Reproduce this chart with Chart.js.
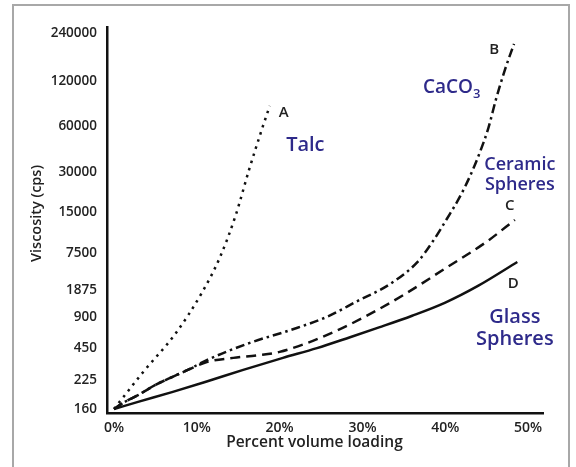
<!DOCTYPE html>
<html>
<head>
<meta charset="utf-8">
<script src="https://cdn.jsdelivr.net/npm/chart.js@4/dist/chart.umd.min.js"></script>
<style>
  body { margin: 0; background: #fff; }
  .wrap { position: relative; width: 576px; height: 467px; }
  .frame { position: absolute; left: 12px; top: 4px; width: 558px; height: 470px;
           border: 2px solid #a8a8a8; border-bottom: none; box-sizing: border-box; }
  canvas { position: absolute; left: 0; top: 0; }
</style>
</head>
<body>
<div class="wrap">
  <div class="frame"></div>
  <canvas id="chart" width="576" height="467"></canvas>
</div>
<script>
// x = percent volume loading, y = position on the (uneven) viscosity scale, 0 = 160 cps, 100 = 240000 cps
const xTicks = [0, 10, 20, 30, 40, 50];
const yTickLevels = [0, 7.7, 16.2, 24.5, 31.6, 41.5, 52.4, 63.0, 75.3, 87.2, 100];
const yTickLabels = ["160", "225", "450", "900", "1875", "7500", "15000", "30000", "60000", "120000", "240000"];

// A - talc
const talcX = [0, 3.5, 7.4, 10.6, 12.8, 14.7, 16.3, 17.9, 18.8];
const talcY = [0, 9.8, 20.0, 30.9, 40.4, 51.6, 63.6, 74.7, 80.6];
// B - CaCO3
const caco3X = [0, 1.3, 2.9, 5.0, 7.0, 8.9, 11.2, 16.4, 21.3, 25.7, 29.3, 33.3, 36.6, 38.5, 40.2, 41.8, 43.1, 44.2, 45.2, 46.1, 47.2, 48.3];
const caco3Y = [0, 1.9, 3.7, 6.4, 8.5, 10.4, 13.0, 17.6, 21.0, 24.5, 28.6, 33.2, 39.0, 44.6, 50.6, 56.6, 62.5, 68.4, 74.7, 82.2, 90.2, 97.1];
// C - ceramic spheres
const ceramicX = [0, 1.3, 2.9, 5.0, 7.0, 8.9, 11.2, 14.4, 17.5, 20, 25, 30, 35, 40, 45, 48.4];
const ceramicY = [0, 1.9, 3.7, 6.4, 8.5, 10.4, 12.5, 13.6, 14.3, 15.2, 19.0, 24.2, 30.4, 37.4, 44.5, 50.3];
// D - glass spheres
const glassX = [0, 2.9, 7.0, 11.0, 15.6, 20.4, 24.5, 28.5, 32, 36, 40, 44, 48.7];
const glassY = [0, 1.9, 4.5, 7.2, 10.4, 13.6, 16.2, 19.1, 21.7, 24.8, 28.3, 32.8, 39.1];

const pts = (xs, ys) => xs.map((x, i) => ({ x: x, y: ys[i] }));

const notes = [
  { text: "A", x: 20.5, y: 78.7, color: "#222", size: 15 },
  { text: "Talc", x: 23.1, y: 70.2, color: "#2e2a8a", size: 20 },
  { text: "B", x: 45.9, y: 95.5, color: "#222", size: 15 },
  { text: "Ceramic", x: 49.0, y: 64.9, color: "#2e2a8a", size: 18 },
  { text: "Spheres", x: 49.0, y: 59.6, color: "#2e2a8a", size: 18 },
  { text: "C", x: 47.8, y: 54.0, color: "#222", size: 15 },
  { text: "D", x: 48.2, y: 33.2, color: "#222", size: 15 },
  { text: "Glass", x: 48.4, y: 24.5, color: "#2e2a8a", size: 20 },
  { text: "Spheres", x: 48.4, y: 18.6, color: "#2e2a8a", size: 20 }
];

const notePlugin = {
  id: "notes",
  afterDraw(chart) {
    const ctx = chart.ctx;
    const xs = chart.scales.x, ys = chart.scales.y;
    ctx.save();
    ctx.textAlign = "center";
    ctx.textBaseline = "middle";
    notes.forEach(n => {
      ctx.font = "600 " + n.size + "px 'Open Sans'";
      ctx.fillStyle = n.color;
      ctx.fillText(n.text, xs.getPixelForValue(n.x), ys.getPixelForValue(n.y));
    });
    // CaCO3 with subscript
    const cx = xs.getPixelForValue(37.3), cy = ys.getPixelForValue(85.4);
    ctx.textAlign = "left";
    ctx.fillStyle = "#2e2a8a";
    ctx.font = "600 19px 'Open Sans'";
    ctx.fillText("CaCO", cx, cy);
    const w = ctx.measureText("CaCO").width;
    ctx.font = "600 13px 'Open Sans'";
    ctx.fillText("3", cx + w, cy + 6);

    // axis titles
    ctx.fillStyle = "#222";
    ctx.textAlign = "center";
    ctx.font = "600 15.5px 'Open Sans'";
    ctx.fillText("Percent volume loading", xs.getPixelForValue(24.2), 443);
    ctx.translate(37, ys.getPixelForValue(52));
    ctx.rotate(-Math.PI / 2);
    ctx.font = "600 14.5px 'Open Sans'";
    ctx.fillText("Viscosity (cps)", 0, 0);
    ctx.restore();
  }
};

const line = (data, dash) => ({
  data: data,
  borderColor: "#111",
  borderWidth: 2.5,
  borderDash: dash,
  pointRadius: 0,
  fill: false,
  cubicInterpolationMode: "monotone"
});

new Chart(document.getElementById("chart"), {
  type: "line",
  data: {
    datasets: [
      line(pts(talcX, talcY), [2.5, 5]),
      line(pts(caco3X, caco3Y), [9, 4, 2.5, 4]),
      line(pts(ceramicX, ceramicY), [10, 6]),
      line(pts(glassX, glassY), [])
    ]
  },
  options: {
    responsive: false,
    animation: false,
    layout: { padding: { left: 0, top: 27, right: 33, bottom: 0 } },
    plugins: { legend: { display: false }, tooltip: { enabled: false } },
    scales: {
      x: {
        type: "linear",
        min: -0.85,
        max: 51.8,
        afterBuildTicks: s => { s.ticks = xTicks.map(v => ({ value: v })); },
        afterFit: s => { s.height = 54; },
        grid: { display: false, drawTicks: false },
        border: { display: true, color: "#111", width: 2.5 },
        ticks: {
          padding: 7,
          color: "#222",
          font: { family: "'Open Sans'", size: 14, weight: "600" },
          callback: v => v + "%"
        }
      },
      y: {
        type: "linear",
        min: -1.06,
        max: 101.6,
        afterBuildTicks: s => { s.ticks = yTickLevels.map(v => ({ value: v })); },
        afterFit: s => { s.width = 107; },
        grid: { display: false, drawTicks: false },
        border: { display: true, color: "#111", width: 2.5 },
        ticks: {
          padding: 10,
          color: "#222",
          font: { family: "'Open Sans'", size: 13.5, weight: "600" },
          callback: v => {
            const i = yTickLevels.indexOf(v);
            return i >= 0 ? yTickLabels[i] : "";
          }
        }
      }
    }
  },
  plugins: [notePlugin]
});
</script>
</body>
</html>
